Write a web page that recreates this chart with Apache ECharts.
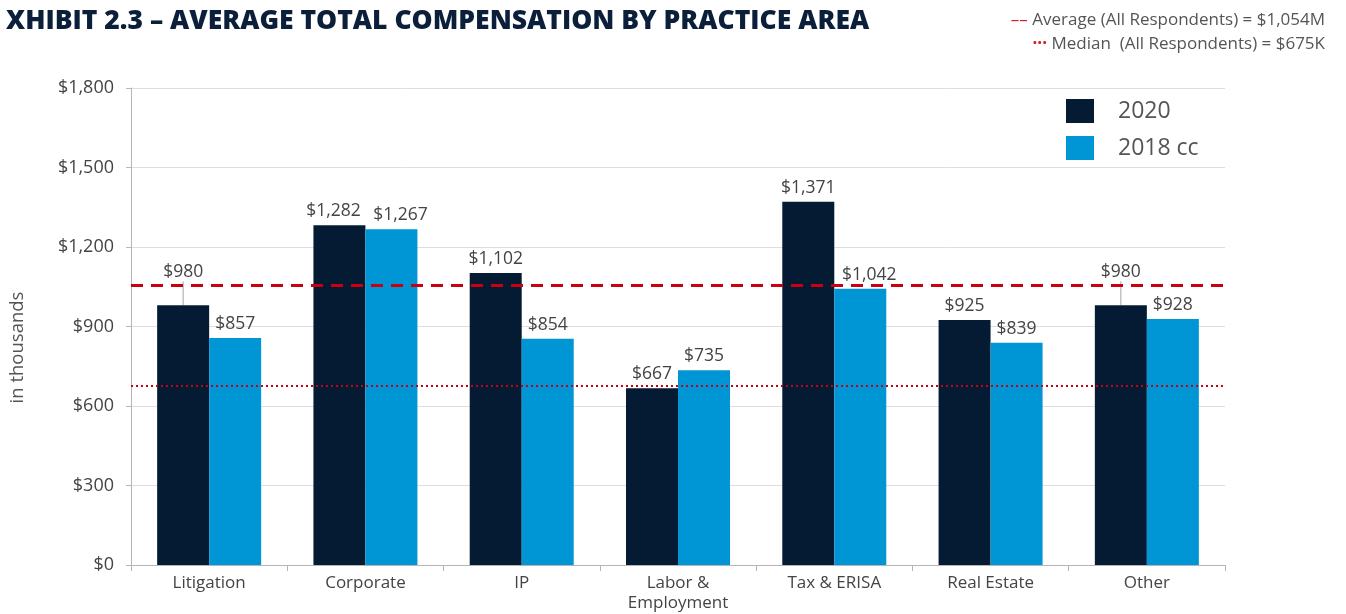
<!DOCTYPE html>
<html>
<head>
<meta charset="utf-8">
<script src="https://cdn.jsdelivr.net/npm/echarts@6/dist/echarts.min.js"></script>
<style>
  html, body { margin: 0; padding: 0; background: #fff; }
  #main { width: 1346px; height: 614px; }
</style>
</head>
<body>
<div id="main"></div>
<script>
var categories = ['Litigation', 'Corporate', 'IP', 'Labor &\nEmployment', 'Tax & ERISA', 'Real Estate', 'Other'];
var values2020 = [980, 1282, 1102, 667, 1371, 925, 980];
var values2018 = [857, 1267, 854, 735, 1042, 839, 928];
var averageValue = 1054;
var medianValue = 675;
// labels lifted above the average line, with a leader line
var liftedLabels = [0, 6];

window.onload = function () {
    var myChart = echarts.init(document.getElementById('main'));

    var fontFamily = '"Open Sans", Lato, sans-serif';
    var money = function (p) {
        return '$' + p.value.toLocaleString('en-US');
    };

    // 2020 data with leader lines on the lifted labels
    var data2020 = values2020.map(function (v, i) {
        var lifted = liftedLabels.indexOf(i) >= 0;
        return { value: v, labelLine: { show: lifted } };
    });

    var option = {
        textStyle: { fontFamily: fontFamily },
        title: [
            {
                text: 'XHIBIT 2.3 \u2013 AVERAGE TOTAL COMPENSATION BY PRACTICE AREA',
                left: 1,
                top: 3,
                textStyle: { fontSize: 26.5, fontWeight: 800, color: '#0b1f3a', fontFamily: fontFamily }
            },
            {
                text: '{d|\u2013\u2013} Average (All Respondents) = $1,054M',
                right: 16,
                top: 7,
                textStyle: {
                    fontSize: 17, fontWeight: 'normal', color: '#555', fontFamily: fontFamily,
                    rich: { d: { color: '#d0202a', fontSize: 17 } }
                }
            },
            {
                text: '{d|\u00b7\u00b7\u00b7} Median  (All Respondents) = $675K',
                right: 16,
                top: 31,
                textStyle: {
                    fontSize: 17, fontWeight: 'normal', color: '#555', fontFamily: fontFamily,
                    rich: { d: { color: '#d0202a', fontSize: 17, fontWeight: 'bold' } }
                }
            }
        ],
        legend: {
            orient: 'vertical',
            left: 1061,
            top: 94,
            itemWidth: 28,
            itemHeight: 24,
            itemGap: 13,
            icon: 'rect',
            textStyle: { fontSize: 23, color: '#555', padding: [0, 0, 0, 19] },
            data: ['2020', '2018 cc']
        },
        grid: {
            left: 130,
            right: 121,
            top: 88,
            bottom: 49
        },
        xAxis: {
            type: 'category',
            data: categories,
            axisLine: { lineStyle: { color: '#b5b5b5' } },
            axisTick: { show: true, length: 6, lineStyle: { color: '#b5b5b5' } },
            axisLabel: { fontSize: 17, color: '#444', lineHeight: 20, margin: 8 }
        },
        yAxis: {
            type: 'value',
            min: 0,
            max: 1800,
            interval: 300,
            name: 'in thousands',
            nameLocation: 'middle',
            nameGap: 104,
            nameTextStyle: { fontSize: 18.5, color: '#555', padding: [0, 42, 0, 0] },
            axisLine: { show: true, lineStyle: { color: '#b5b5b5' } },
            axisTick: { show: true, length: 5, lineStyle: { color: '#b5b5b5' } },
            axisLabel: {
                fontSize: 18,
                color: '#444',
                margin: 17,
                formatter: function (v) { return '$' + v.toLocaleString('en-US'); }
            },
            splitLine: { lineStyle: { color: '#dedede' } }
        },
        series: [
            {
                name: '2020',
                type: 'bar',
                data: data2020,
                barWidth: 52,
                barGap: '0%',
                itemStyle: { color: '#051b33' },
                label: {
                    show: true,
                    position: 'top',
                    distance: 5,
                    fontSize: 17.5,
                    color: '#444',
                    formatter: money
                },
                labelLine: { show: false, lineStyle: { color: '#a6a6a6', width: 1 } },
                labelLayout: function (params) {
                    if (liftedLabels.indexOf(params.dataIndex) >= 0) {
                        return { dy: -19 };
                    }
                    if (params.dataIndex === 1) {
                        return { dx: -6 };
                    }
                },
                markLine: {
                    symbol: 'none',
                    silent: true,
                    label: { show: false },
                    data: [
                        { yAxis: averageValue, lineStyle: { color: '#c8000f', type: [12, 8], width: 3 } },
                        { yAxis: medianValue, lineStyle: { color: '#c8000f', type: [2, 3], width: 2 } }
                    ]
                },
                z: 2
            },
            {
                name: '2018 cc',
                type: 'bar',
                data: values2018,
                barWidth: 52,
                barGap: '0%',
                itemStyle: { color: '#0095d4' },
                label: {
                    show: true,
                    position: 'top',
                    distance: 5,
                    fontSize: 17.5,
                    color: '#444',
                    formatter: money
                },
                labelLayout: function (params) {
                    if (params.dataIndex === 1 || params.dataIndex === 4) {
                        return { dx: 9 };
                    }
                },
                z: 2
            }
        ]
    };

    myChart.setOption(option);
};
</script>
</body>
</html>
